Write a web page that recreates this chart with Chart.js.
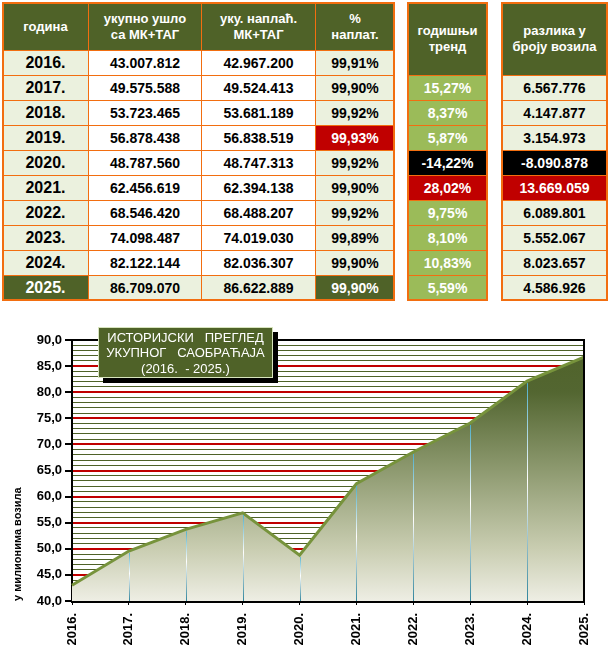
<!DOCTYPE html>
<html>
<head>
<meta charset="utf-8">
<script src="https://cdn.jsdelivr.net/npm/chart.js@4"></script>
<style>
  body { margin: 0; background: #fff; font-family: "Liberation Sans", Arial, sans-serif; }
  #page { position: relative; width: 608px; height: 655px; overflow: hidden; }
  .cell {
    position: absolute; box-sizing: border-box; border: 1px solid #F26E10;
    display: flex; align-items: center; justify-content: center; text-align: center;
    font-weight: bold; font-size: 14px; color: #000; line-height: 16px;
  }
  .head { background: #4F6228; color: #fff; font-size: 13px; }
  .frame { position: absolute; box-sizing: border-box; border: 2px solid #F26E10; pointer-events: none; }
  #chartBox { position: absolute; left: 0; top: 310px; width: 608px; height: 345px; }
</style>
</head>
<body>
<div id="page">
  <div id="chartBox"><canvas id="traffic"></canvas></div>
</div>
<script>
const years = ["2016.", "2017.", "2018.", "2019.", "2020.", "2021.", "2022.", "2023.", "2024.", "2025."];
const totalIn = [43007812, 49575588, 53723465, 56878438, 48787560, 62456619, 68546420, 74098487, 82122144, 86709070];
const totalPaid = [42967200, 49524413, 53681189, 56838519, 48747313, 62394138, 68488207, 74019030, 82036307, 86622889];
const paidPct = [99.91, 99.90, 99.92, 99.93, 99.92, 99.90, 99.92, 99.89, 99.90, 99.90];
const trend = [null, 15.27, 8.37, 5.87, -14.22, 28.02, 9.75, 8.10, 10.83, 5.59];
const diff = [null, 6567776, 4147877, 3154973, -8090878, 13669059, 6089801, 5552067, 8023657, 4586926];
const yTicks = [40, 45, 50, 55, 60, 65, 70, 75, 80, 85, 90];

const LIGHT = "#EBF1DE";
const DARK = "#4F6228";
const RED = "#C00000";

function fmtInt(n) {
  const s = Math.abs(n).toString().replace(/\B(?=(\d{3})+(?!\d))/g, ".");
  return (n < 0 ? "-" : "") + s;
}
function fmtPct(n) {
  return n.toFixed(2).replace(".", ",") + "%";
}

const page = document.getElementById("page");
function cell(x, y, w, h, html, bg, color, cls, size) {
  const d = document.createElement("div");
  d.className = "cell" + (cls ? " " + cls : "");
  d.style.left = x + "px";
  d.style.top = y + "px";
  d.style.width = w + 1 + "px";
  d.style.height = h + 1 + "px";
  if (bg) d.style.background = bg;
  if (color) d.style.color = color;
  if (size) d.style.fontSize = size + "px";
  d.innerHTML = html;
  page.appendChild(d);
  return d;
}
function frame(x, y, w, h) {
  const d = document.createElement("div");
  d.className = "frame";
  d.style.left = x + "px";
  d.style.top = y + "px";
  d.style.width = w + 1 + "px";
  d.style.height = h + 1 + "px";
  page.appendChild(d);
}

// main table
const cols = [2, 88, 201, 315, 394];
const rowH = 25;
const headBottom = 50;
cell(cols[0], 2, cols[1] - cols[0], headBottom - 2, "година", null, null, "head");
cell(cols[1], 2, cols[2] - cols[1], headBottom - 2, "укупно ушло<br>са МК+ТАГ", null, null, "head").style.borderBottom = "1px dotted #000";
cell(cols[2], 2, cols[3] - cols[2], headBottom - 2, "уку. наплаћ.<br>МК+ТАГ", null, null, "head").style.borderBottom = "1px dotted #000";
cell(cols[3], 2, cols[4] - cols[3], headBottom - 2, "%<br>наплат.", null, null, "head");

const last = years.length - 1;
const maxPct = paidPct.indexOf(Math.max(...paidPct));
years.forEach((yr, i) => {
  const y = headBottom + i * rowH;
  const isLast = i === last;
  cell(cols[0], y, cols[1] - cols[0], rowH, yr, isLast ? DARK : LIGHT, isLast ? "#fff" : "#000", null, 16);
  cell(cols[1], y, cols[2] - cols[1], rowH, fmtInt(totalIn[i]), isLast ? LIGHT : "#fff");
  cell(cols[2], y, cols[3] - cols[2], rowH, fmtInt(totalPaid[i]), isLast ? LIGHT : "#fff");
  let bg = LIGHT, fg = "#000";
  if (i === maxPct) { bg = RED; fg = "#fff"; }
  if (isLast) { bg = DARK; fg = "#fff"; }
  cell(cols[3], y, cols[4] - cols[3], rowH, fmtPct(paidPct[i]), bg, fg);
});
frame(cols[0], 2, cols[4] - cols[0], headBottom + years.length * rowH - 2);

// trend + difference tables
const trendX = [407, 487];
const diffX = [501, 607];
const sideHead = 75;
cell(trendX[0], 2, trendX[1] - trendX[0], sideHead - 2, "годишњи<br>тренд", null, null, "head");
cell(diffX[0], 2, diffX[1] - diffX[0], sideHead - 2, "разлика у<br>броју возила", null, null, "head");
const maxTrend = trend.indexOf(Math.max(...trend.filter((v) => v !== null)));
for (let i = 1; i < years.length; i++) {
  const y = sideHead + (i - 1) * rowH;
  let tb = "#9BBB59", db = LIGHT, dc = "#000";
  if (trend[i] < 0) { tb = "#000"; db = "#000"; dc = "#fff"; }
  if (i === maxTrend) { tb = RED; db = RED; dc = "#fff"; }
  cell(trendX[0], y, trendX[1] - trendX[0], rowH, fmtPct(trend[i]), tb, "#fff");
  cell(diffX[0], y, diffX[1] - diffX[0], rowH, fmtInt(diff[i]), db, dc);
}
frame(trendX[0], 2, trendX[1] - trendX[0], sideHead + (years.length - 1) * rowH - 2);
frame(diffX[0], 2, diffX[1] - diffX[0], sideHead + (years.length - 1) * rowH - 2);

// chart
const millions = totalIn.map((v) => v / 1e6);

const dropLines = {
  id: "dropLines",
  afterDatasetsDraw(chart) {
    const { ctx, chartArea } = chart;
    const meta = chart.getDatasetMeta(0);
    ctx.save();
    meta.data.forEach((pt, i) => {
      if (i === 0) return;
      const g = ctx.createLinearGradient(0, pt.y, 0, chartArea.bottom);
      g.addColorStop(0, "#4BACC6");
      g.addColorStop(0.45, "#ffffff");
      g.addColorStop(1, "#31859C");
      ctx.strokeStyle = i === meta.data.length - 1 ? "#77933C" : g;
      ctx.lineWidth = 1;
      ctx.beginPath();
      ctx.moveTo(Math.round(pt.x) + 0.5, pt.y + 2);
      ctx.lineTo(Math.round(pt.x) + 0.5, chartArea.bottom);
      ctx.stroke();
    });
    ctx.restore();
  },
};

const frameAndTitle = {
  id: "frameAndTitle",
  afterDraw(chart) {
    const { ctx, chartArea } = chart;
    ctx.save();
    // right border of the plot
    ctx.strokeStyle = "#000";
    ctx.lineWidth = 2;
    ctx.beginPath();
    ctx.moveTo(chartArea.right, chartArea.top - 1);
    ctx.lineTo(chartArea.right, chartArea.bottom);
    ctx.stroke();

    // title box
    const bx = chartArea.left + 26, by = chartArea.top - 13, bw = 175, bh = 51;
    ctx.fillStyle = "#000";
    ctx.fillRect(bx + 5, by + 5, bw, bh);
    ctx.fillStyle = DARK;
    ctx.fillRect(bx, by, bw, bh);
    ctx.strokeStyle = "#D7E4BD";
    ctx.lineWidth = 1;
    ctx.strokeRect(bx + 0.5, by + 0.5, bw - 1, bh - 1);
    ctx.fillStyle = "#fff";
    ctx.font = '13px "Liberation Sans", Arial, sans-serif';
    ctx.textAlign = "center";
    ctx.textBaseline = "middle";
    const cx = bx + bw / 2;
    ctx.fillText("ИСТОРИЈСКИ   ПРЕГЛЕД", cx, by + 11);
    ctx.fillText("УКУПНОГ   САОБРАЋАЈА", cx, by + 26);
    ctx.fillText("(2016.  - 2025.)", cx, by + 42);
    ctx.restore();
  },
};

new Chart(document.getElementById("traffic"), {
  type: "line",
  data: {
    labels: years,
    datasets: [
      {
        label: "укупно ушло",
        data: millions,
        borderColor: "#77933C",
        borderWidth: 3,
        pointRadius: 0,
        tension: 0,
        fill: "start",
        backgroundColor: (c) => {
          const area = c.chart.chartArea;
          if (!area) return "#8E9A70";
          const g = c.chart.ctx.createLinearGradient(0, area.top, 0, area.bottom);
          g.addColorStop(0, "#4F6228");
          g.addColorStop(0.2, "#536631");
          g.addColorStop(0.5, "#8E9A70");
          g.addColorStop(0.8, "#C9CDB1");
          g.addColorStop(1, "#EEEEE4");
          return g;
        },
      },
    ],
  },
  options: {
    responsive: true,
    maintainAspectRatio: false,
    animation: false,
    layout: { padding: { top: 30, right: 24, left: 0, bottom: 0 } },
    plugins: {
      legend: { display: false },
      tooltip: { enabled: false },
    },
    scales: {
      x: {
        offset: false,
        grid: { drawOnChartArea: false, tickColor: "#000", tickLength: 4 },
        border: { color: "#000", width: 3 },
        ticks: {
          color: "#000",
          minRotation: 90,
          maxRotation: 90,
          padding: 8,
          font: { family: '"Liberation Sans", Arial', size: 13, weight: "bold" },
        },
        afterFit: (scale) => {
          scale.height = 54;
        },
      },
      y: {
        min: 40,
        max: 90,
        border: { color: "#000", width: 2 },
        grid: {
          color: (c) =>
            c.tick.value === 90 ? "#000" : c.tick.value % 5 === 0 ? "#C00000" : "#4F6228",
          lineWidth: (c) => (c.tick.value % 5 === 0 ? 2 : 1),
          tickColor: (c) => (yTicks.includes(c.tick.value) ? "#000" : "rgba(0,0,0,0)"),
          tickWidth: 2,
          tickLength: 7,
        },
        ticks: {
          stepSize: 1,
          maxTicksLimit: 100,
          autoSkip: false,
          color: "#000",
          padding: 3,
          font: { family: '"Liberation Sans", Arial', size: 13, weight: "bold" },
          callback: (v) => (yTicks.includes(v) ? v.toFixed(1).replace(".", ",") : ""),
        },
        title: {
          display: true,
          text: "у милионима возила",
          align: "start",
          color: "#000",
          font: { family: '"Liberation Sans", Arial', size: 11, weight: "bold" },
          padding: { top: 11, bottom: 0 },
        },
        afterFit: (scale) => {
          scale.width = 72;
        },
      },
    },
  },
  plugins: [dropLines, frameAndTitle],
});
</script>
</body>
</html>
